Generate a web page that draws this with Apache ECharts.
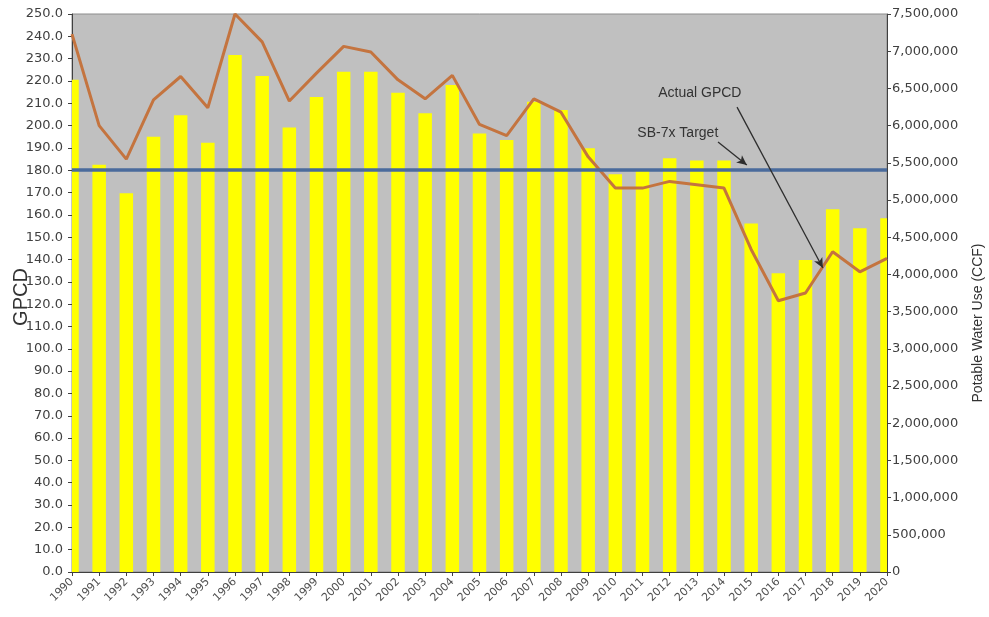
<!DOCTYPE html>
<html>
<head>
<meta charset="utf-8">
<title>GPCD and Potable Water Use</title>
<script src="https://cdn.jsdelivr.net/npm/echarts@6/dist/echarts.min.js"></script>
<style>
  html, body { margin: 0; padding: 0; background: #ffffff; }
  #chart { width: 989px; height: 617px; }
</style>
</head>
<body>
<div id="chart"></div>
<script>
// Years on the horizontal axis
const years = [1990, 1991, 1992, 1993, 1994, 1995, 1996, 1997, 1998, 1999,
               2000, 2001, 2002, 2003, 2004, 2005, 2006, 2007, 2008, 2009,
               2010, 2011, 2012, 2013, 2014, 2015, 2016, 2017, 2018, 2019, 2020];

// Gallons per capita per day (left axis)
const gpcd = [241, 200, 185, 211.5, 222, 208, 250, 237.5, 211, 223.5,
              235.5, 233, 220.5, 212, 222.5, 200.5, 195.5, 212, 206, 186,
              172, 172, 175, 173.5, 172, 144.5, 121.5, 125, 143.5, 134.5, 140.5];

// Potable water use in CCF (right axis)
const potableCCF = [6615000, 5475000, 5090000, 5850000, 6140000, 5770000, 6950000, 6665000, 5975000, 6385000,
                    6725000, 6725000, 6440000, 6165000, 6545000, 5895000, 5805000, 6320000, 6210000, 5695000,
                    5345000, 5405000, 5560000, 5530000, 5530000, 4685000, 4015000, 4195000, 4875000, 4620000, 4755000];

// SB-7x target GPCD
const targetGPCD = 180;

// Callout notes: [year, GPCD] anchors
const actualNote = { text: 'Actual GPCD', at: [2013.11, 214.6], from: [2014.48, 208.3], to: [2017.64, 136.2] };
const targetNote = { text: 'SB-7x Target', at: [2012.30, 196.7], from: [2013.78, 192.7], to: [2014.84, 182.3] };

const BAR_WIDTH = 13.5;

const chart = echarts.init(document.getElementById('chart'));

const tickFont = { fontFamily: 'DejaVu Sans', fontSize: 13, color: '#404040' };

// Bars centred on each year tick, trimmed to the plot area so the end bars are half-width
function renderBar(params, api) {
  const year = api.value(0);
  const top = api.coord([year, api.value(1)]);
  const base = api.coord([year, 0]);
  const cs = params.coordSys;
  const shape = echarts.graphic.clipRectByRect(
    { x: top[0] - BAR_WIDTH / 2, y: top[1], width: BAR_WIDTH, height: base[1] - top[1] },
    { x: cs.x, y: cs.y, width: cs.width, height: cs.height }
  );
  return shape && { type: 'rect', shape: shape, style: { fill: '#ffff00' } };
}

const option = {
  animation: false,
  backgroundColor: '#ffffff',
  grid: {
    left: 72, right: 102, top: 14, bottom: 45,
    show: true, backgroundColor: '#c0c0c0',
    borderColor: '#8c8c8c', borderWidth: 1
  },
  xAxis: {
    type: 'value', min: 1990, max: 2020, interval: 1,
    axisLine: { lineStyle: { color: '#404040', width: 1 } },
    axisTick: { show: true, length: 4, lineStyle: { color: '#404040' } },
    splitLine: { show: false },
    axisLabel: {
      rotate: 45, margin: 8,
      fontFamily: 'DejaVu Sans', fontSize: 11, color: '#505050',
      formatter: v => String(v)
    }
  },
  yAxis: [
    {
      type: 'value', min: 0, max: 250, interval: 10, position: 'left',
      axisLine: { show: true, lineStyle: { color: '#404040', width: 1 } },
      axisTick: { show: true, length: 4, lineStyle: { color: '#404040' } },
      splitLine: { show: false },
      axisLabel: Object.assign({ margin: 9, formatter: v => v.toFixed(1) }, tickFont)
    },
    {
      type: 'value', min: 0, max: 7500000, interval: 500000, position: 'right',
      axisLine: { show: true, lineStyle: { color: '#404040', width: 1 } },
      axisTick: { show: true, length: 4, lineStyle: { color: '#404040' } },
      splitLine: { show: false },
      axisLabel: Object.assign({ margin: 5, formatter: v => v.toLocaleString('en-US') }, tickFont)
    }
  ],
  series: [
    {
      name: 'Potable Water Use (CCF)',
      type: 'custom',
      yAxisIndex: 1,
      renderItem: renderBar,
      encode: { x: 0, y: 1 },
      data: years.map((y, i) => [y, potableCCF[i]]),
      z: 2
    },
    {
      name: 'SB-7x Target',
      type: 'line',
      yAxisIndex: 0,
      data: [],
      markLine: {
        silent: true,
        symbol: ['none', 'none'],
        label: { show: false },
        lineStyle: { color: '#4a6b9c', width: 3.5, type: 'solid' },
        data: [{ yAxis: targetGPCD }]
      },
      z: 3
    },
    {
      name: 'Actual GPCD',
      type: 'line',
      yAxisIndex: 0,
      symbol: 'none',
      clip: true,
      lineStyle: { color: '#c4743f', width: 3 },
      data: years.map((y, i) => [y, gpcd[i]]),
      z: 4
    },
    {
      name: 'Notes',
      type: 'line',
      yAxisIndex: 0,
      data: [],
      markLine: {
        silent: true,
        symbol: ['none', 'arrow'],
        symbolSize: [7, 10],
        label: { show: false },
        lineStyle: { color: '#2e2e2e', width: 1.3, type: 'solid' },
        data: [
          [{ coord: actualNote.from }, { coord: actualNote.to }],
          [{ coord: targetNote.from }, { coord: targetNote.to }]
        ]
      },
      markPoint: {
        silent: true,
        symbol: 'circle',
        symbolSize: 0,
        label: {
          show: true, position: 'inside',
          fontFamily: 'Liberation Sans', fontSize: 14, color: '#333333',
          formatter: p => p.name
        },
        data: [
          { name: actualNote.text, coord: actualNote.at },
          { name: targetNote.text, coord: targetNote.at }
        ]
      },
      z: 5
    }
  ],
  graphic: [
    {
      type: 'text', x: 21, y: 297, rotation: Math.PI / 2,
      style: {
        text: 'GPCD', fontFamily: 'Liberation Sans', fontSize: 20,
        fill: '#333333', align: 'center', verticalAlign: 'middle'
      }
    },
    {
      type: 'text', x: 978, y: 323, rotation: Math.PI / 2,
      style: {
        text: 'Potable Water Use (CCF)', fontFamily: 'Liberation Sans', fontSize: 14,
        fill: '#333333', align: 'center', verticalAlign: 'middle'
      }
    }
  ]
};

chart.setOption(option);
</script>
</body>
</html>
